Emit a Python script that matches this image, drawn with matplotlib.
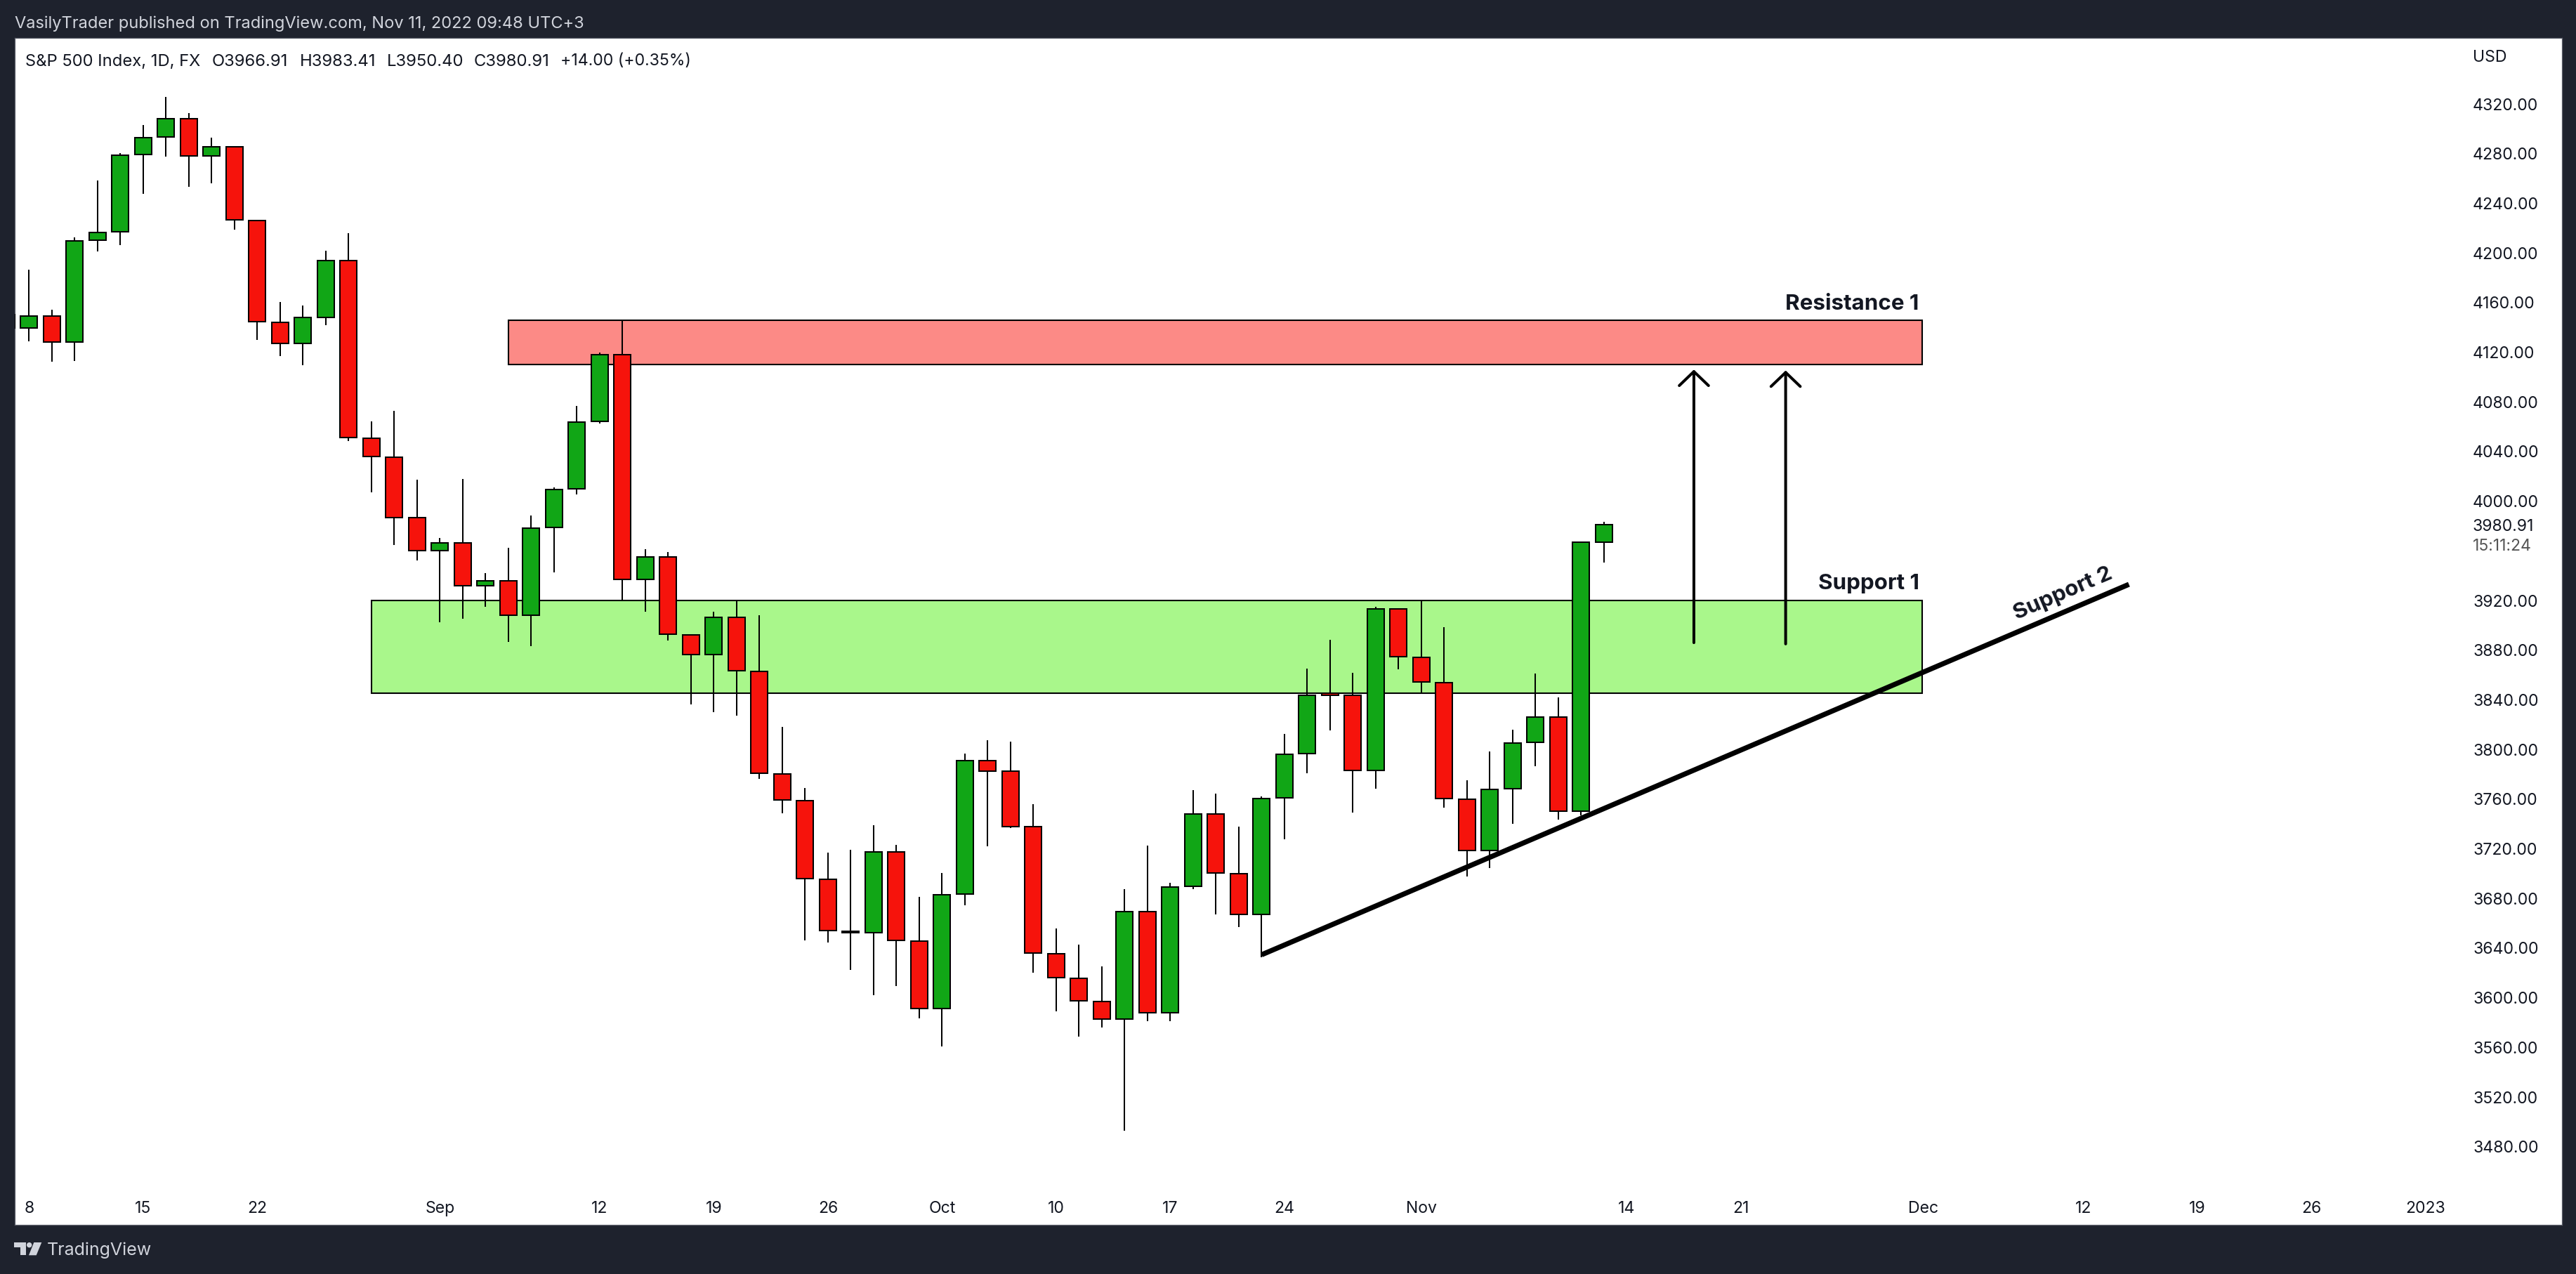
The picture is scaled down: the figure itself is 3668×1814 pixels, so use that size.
# -*- coding: utf-8 -*-
# S&P 500 daily candles with support / resistance drawings
import numpy as np
import matplotlib.pyplot as plt
from matplotlib.patches import Polygon, Circle
from matplotlib.transforms import Affine2D

#-----------------------------------------------------------------------------
# Data, first value is the candle clipped at the left edge
#-----------------------------------------------------------------------------
opens = [4139.4, 4139.4, 4149.3, 4128.3, 4210.1, 4217.0, 4279.0, 4293.2, 4308.3, 4278.4,
         4285.7, 4226.3, 4144.3, 4127.1, 4148.1, 4194.0, 4050.9, 4035.6, 3986.5, 3960.0,
         3966.5, 3931.7, 3935.9, 3908.1, 3978.6, 4009.7, 4064.1, 4118.2, 3937.0, 3955.1,
         3892.5, 3876.7, 3906.6, 3863.0, 3780.4, 3758.8, 3695.5, 3653.8, 3652.3, 3717.3,
         3645.7, 3591.2, 3683.4, 3791.2, 3782.6, 3737.7, 3635.6, 3615.8, 3597.1, 3582.6,
         3669.5, 3587.8, 3689.9, 3748.0, 3699.9, 3666.9, 3760.9, 3796.5, 3845.3, 3843.8,
         3783.0, 3913.2, 3874.2, 3853.9, 3760.1, 3718.7, 3768.2, 3805.5, 3826.1, 3750.1,
         3966.91]
highs = [4155.0, 4186.5, 4154.2, 4212.6, 4258.2, 4280.4, 4303.1, 4325.7, 4312.6, 4292.8,
         4285.7, 4226.5, 4160.4, 4157.6, 4201.6, 4215.8, 4064.3, 4072.7, 4017.4, 3970.3,
         4017.8, 3942.0, 3962.4, 3988.5, 4010.9, 4076.8, 4119.6, 4145.5, 3961.2, 3959.0,
         3892.7, 3910.9, 3920.4, 3908.1, 3818.2, 3768.9, 3716.9, 3719.0, 3738.9, 3723.2,
         3681.3, 3700.4, 3796.6, 3807.4, 3806.4, 3755.8, 3655.8, 3642.8, 3625.3, 3687.4,
         3722.5, 3692.5, 3767.1, 3764.4, 3737.9, 3762.1, 3812.4, 3865.1, 3888.2, 3861.7,
         3914.9, 3913.2, 3919.9, 3898.5, 3775.1, 3798.4, 3815.8, 3861.2, 3841.8, 3967.5,
         3983.41]
lows = [4130.0, 4128.9, 4112.5, 4113.1, 4201.4, 4206.5, 4247.7, 4277.8, 4253.4, 4256.2,
        4218.8, 4130.1, 4117.0, 4109.7, 4142.0, 4048.7, 4007.3, 3964.8, 3952.5, 3902.6,
        3905.4, 3915.1, 3886.8, 3883.4, 3942.8, 4005.7, 4062.6, 3920.4, 3911.1, 3887.9,
        3836.5, 3830.3, 3827.4, 3776.5, 3748.5, 3646.4, 3644.7, 3622.6, 3601.8, 3609.6,
        3583.6, 3561.0, 3674.6, 3722.2, 3736.9, 3619.9, 3589.3, 3568.9, 3575.8, 3492.6,
        3580.9, 3580.9, 3687.7, 3667.3, 3656.7, 3632.6, 3727.8, 3781.0, 3815.1, 3749.3,
        3768.5, 3864.7, 3845.5, 3753.3, 3697.8, 3704.7, 3740.3, 3786.6, 3743.7, 3746.6,
        3950.40]
closes = [4150.1, 4149.3, 4128.3, 4209.7, 4216.6, 4278.8, 4293.0, 4308.3, 4278.4, 4285.7,
          4226.5, 4144.5, 4127.1, 4148.1, 4194.0, 4051.1, 4035.8, 3986.7, 3960.0, 3966.5,
          3931.7, 3935.9, 3908.1, 3978.4, 4009.5, 4063.8, 4118.2, 3937.0, 3955.1, 3892.7,
          3876.7, 3906.6, 3863.4, 3780.9, 3759.3, 3696.0, 3654.0, 3652.3, 3717.3, 3646.2,
          3591.2, 3683.2, 3791.2, 3782.8, 3737.9, 3635.9, 3616.0, 3597.4, 3582.6, 3669.5,
          3587.8, 3689.4, 3748.0, 3700.4, 3667.3, 3760.6, 3796.2, 3843.8, 3843.6, 3783.0,
          3913.2, 3874.7, 3854.4, 3760.4, 3718.7, 3767.7, 3805.3, 3826.1, 3750.1, 3966.91,
          3980.91]

price_ticks = [3480, 3520, 3560, 3600, 3640, 3680, 3720, 3760, 3800, 3840, 3880, 3920,
               4000, 4040, 4080, 4120, 4160, 4200, 4240, 4280, 4320]
date_pos = [0, 5, 10, 18, 25, 30, 35, 40, 45, 50, 55, 61, 70, 75, 83, 90, 95, 100, 105]
date_labels = ['8', '15', '22', 'Sep', '12', '19', '26', 'Oct', '10', '17', '24', 'Nov',
               '14', '21', 'Dec', '12', '19', '26', '2023']

# zones and drawings: bar index and price
resistance_zone = (21.0, 82.94, 4110.3, 4145.7)
support_zone = (15.0, 82.94, 3845.4, 3920.2)
trend_x = [54.0, 92.0]
trend_y = [3634.6, 3933.0]
arrow_x = [72.94, 76.96]
arrow_from = [3886.0, 3885.0]
arrow_to = [4106.0, 4105.3]

BG = '#1e222d'
UP = '#11a616'
DOWN = '#f6130c'
FONT = 'Inter'

plt.rcParams['font.family'] = FONT

W, H = 3668, 1814
fig = plt.figure(figsize=(W / 100, H / 100), dpi=100, facecolor=BG)
px = Affine2D().scale(1, -1).translate(0, H)  # picture pixels, y going down

left, right, top, bottom = 21, 3648, 54, 1743.7
ax = fig.add_axes([left / W, 1 - bottom / H, (right - left) / W, (bottom - top) / H])
ax.set_xlim((left - 41.4) / 32.5, (right - 41.4) / 32.5)
ax.set_ylim(4320 - (bottom - 148) / 1.7675, 4320 + (148 - top) / 1.7675)
for s in ax.spines.values():
    s.set_color('#5d606b')
    s.set_linewidth(0.9)

# zones sit under the candles
for zone, col in ((resistance_zone, '#fc8a86'), (support_zone, '#a9f78b')):
    ax.bar(zone[0], zone[3] - zone[2], bottom=zone[2], width=zone[1] - zone[0], align='edge',
           color=col, edgecolor='black', linewidth=1.5, zorder=1)

idx = np.arange(len(closes)) - 1
o = np.array(opens, dtype=float)
c = np.array(closes, dtype=float)
ax.vlines(idx, lows, highs, color='black', linewidth=1.45, zorder=2)
ax.bar(idx, np.abs(c - o), bottom=np.minimum(o, c), width=24 / 32.5,
       color=[UP if b >= a else DOWN for a, b in zip(o, c)],
       edgecolor='black', linewidth=1.45, zorder=3)

# drawings
ax.plot(trend_x, trend_y, color='black', linewidth=5.2, solid_capstyle='butt', zorder=4)
for x, y0, y1 in zip(arrow_x, arrow_from, arrow_to):
    ax.annotate('', xy=(x, y1), xytext=(x, y0), zorder=4,
                arrowprops=dict(arrowstyle='->,head_length=14.4,head_width=15', mutation_scale=1,
                                color='black', linewidth=2.9, shrinkA=0, shrinkB=0))

# axes labels live inside the white panel
ax.yaxis.tick_right()
ax.set_yticks(price_ticks)
ax.set_yticklabels(['%.2f' % t for t in price_ticks])
ax.tick_params(axis='y', length=0, pad=-91.4, labelsize=16.6, labelcolor='#131722')
ax.set_xticks(date_pos)
ax.set_xticklabels(date_labels)
ax.tick_params(axis='x', length=0, pad=-24, labelsize=16.6, labelcolor='#131722')

def put(x, y, s, **kw):
    fig.text(x, y, s, transform=px, va='baseline', **kw)

put(21, 40, 'VasilyTrader published on TradingView.com, Nov 11, 2022 09:48 UTC+3',
    color='#d1d4dc', fontsize=17)
put(36.5, 93.5, 'S&P 500 Index, 1D, FX', color='#131722', fontsize=17.1)
put(302, 93.5, 'O3966.91', color='#131722', fontsize=17.2)
put(427, 93.5, 'H3983.41', color='#131722', fontsize=17.2)
put(551, 93.5, 'L3950.40', color='#131722', fontsize=17.2)
put(675, 93.5, 'C3980.91', color='#131722', fontsize=17.2)
put(798, 93.5, '+14.00 (+0.35%)', color='#131722', fontsize=16.6)
put(3521, 88.5, 'USD', color='#131722', fontsize=16.6)
put(3521, 755.5, '3980.91', color='#131722', fontsize=16.6)
put(3521, 783.5, '15:11:24', color='#555555', fontsize=16.6)

put(2732, 441, 'Resistance 1', color='#131722', fontsize=22.6, fontweight='bold', ha='right')
put(2733, 839, 'Support 1', color='#131722', fontsize=22.6, fontweight='bold', ha='right')
fig.text(2937, 845, 'Support 2', transform=px, color='#131722', fontsize=22.6, fontweight='bold',
         ha='center', va='center', rotation=23.3, rotation_mode='anchor')

# footer logo
LOGO = '#d1d4dc'
fig.add_artist(Polygon([(20, 1769), (36.7, 1769), (36.7, 1787.3), (29, 1787.3), (29, 1775.7), (20, 1775.7)],
                       closed=True, facecolor=LOGO, edgecolor='none', transform=px))
fig.add_artist(Circle((41.7, 1772.7), 3.7, facecolor=LOGO, edgecolor='none', transform=px))
fig.add_artist(Polygon([(48.3, 1769), (59.3, 1769), (51.7, 1787.3), (41, 1787.3)],
                       closed=True, facecolor=LOGO, edgecolor='none', transform=px))
put(67, 1787, 'TradingView', color=LOGO, fontsize=18)

fig.savefig('out.png', dpi=100, facecolor=BG)
